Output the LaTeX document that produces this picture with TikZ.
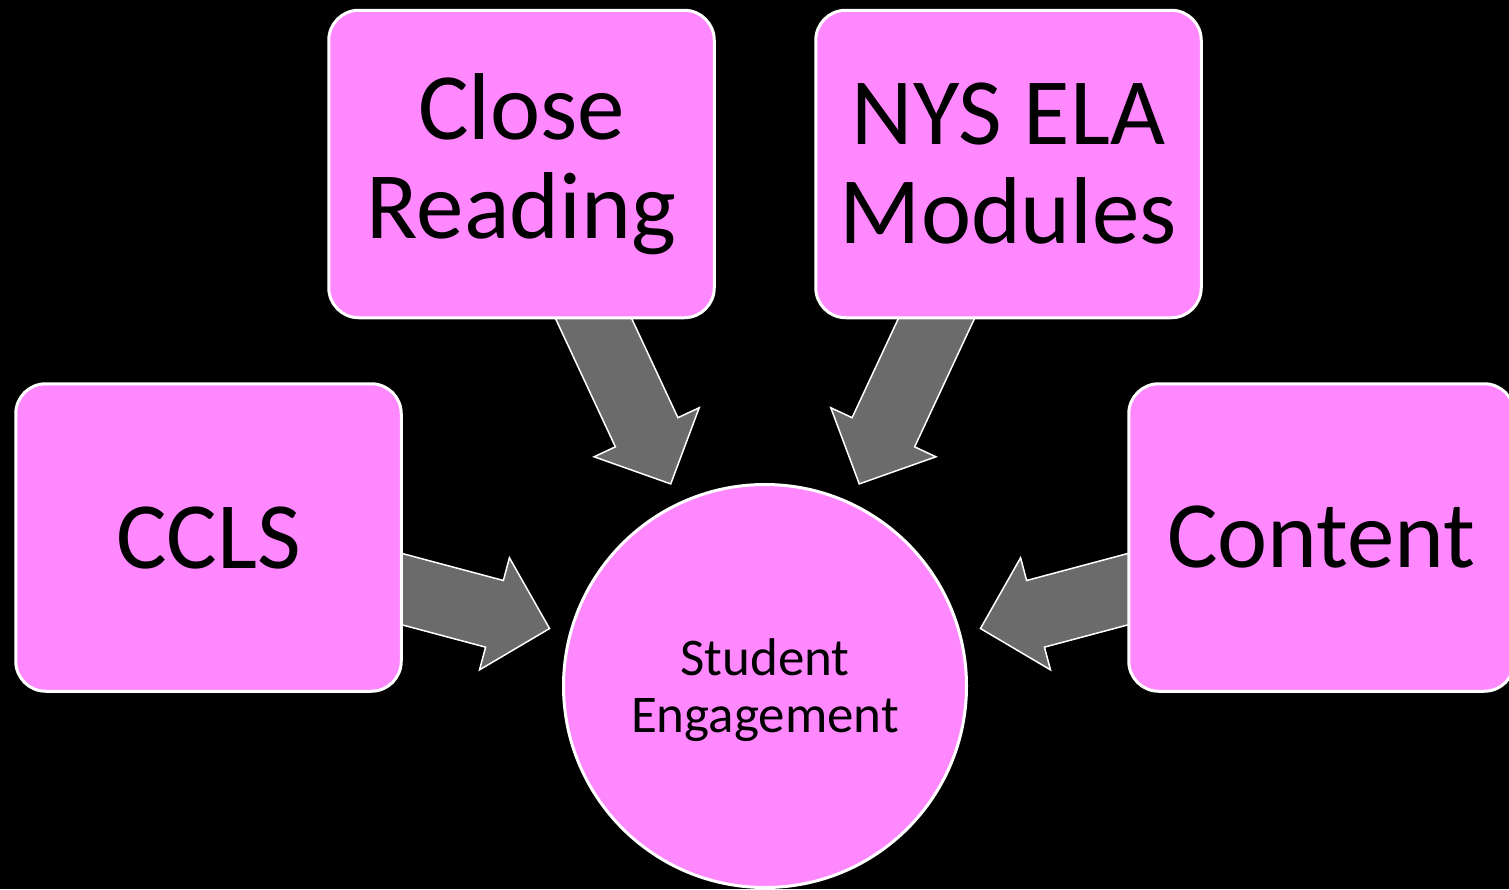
\documentclass[tikz,border=0pt]{standalone}
\usepackage{fontspec}
\setmainfont{Carlito}
\usetikzlibrary{calc}
\definecolor{boxpink}{HTML}{FF88FF}
\definecolor{arrowgray}{HTML}{6B6B6B}
\pgfdeclarelayer{backdrop}
\pgfdeclarelayer{arrows}
\pgfsetlayers{backdrop,arrows,main}

\tikzset{
  topic/.style={draw=white, line width=1.5pt, fill=boxpink, rounded corners=15pt,
    minimum width=192.75pt, minimum height=153.75pt, inner sep=0pt, outer sep=0pt,
    align=center, font=\fontsize{47.5}{49.5}\selectfont},
  hub/.style={draw=white, line width=1.5pt, fill=boxpink, circle,
    minimum size=201.5pt, inner sep=0pt, outer sep=0pt, text depth=0pt,
    align=center, font=\fontsize{26.5}{28.5}\selectfont},
  feed/.style={draw=white, line width=0.75pt, fill=arrowgray, line join=miter}
}

% block arrow from the centre of node #1 towards the centre of node #2
\newcommand\feedarrow[2]{%
  \coordinate (#1-tip) at ($(#2.center)!111.5pt!(#1.center)$);
  \coordinate (#1-neck) at ($(#2.center)!140pt!(#1.center)$);
  \draw[feed] ($(#1.center)!17.25pt!90:(#1-tip)$)
    -- ($(#1-neck)!17.25pt!90:(#1-tip)$)
    -- ($(#1-neck)!29pt!90:(#1-tip)$)
    -- (#1-tip)
    -- ($(#1-neck)!29pt!-90:(#1-tip)$)
    -- ($(#1-neck)!17.25pt!-90:(#1-tip)$)
    -- ($(#1.center)!17.25pt!-90:(#1-tip)$)
    -- cycle;
}

\begin{document}
\begin{tikzpicture}[x=0.5pt, y=-0.5pt]
  \useasboundingbox (0,0) rectangle (1509,889);
  \begin{pgfonlayer}{backdrop}
    \fill[black] (0,0) rectangle (1509,889);
  \end{pgfonlayer}

  \node[topic] (close) at (521.5,164) {Close\\Reading};
  \node[topic] (nys) at (1008.5,164) {NYS ELA\\Modules};
  \node[topic] (ccls) at (208.5,537.5) {CCLS};
  \node[topic] (content) at (1321.5,537.5) {Content};
  \node[hub] (engage) at (765,686) {Student\\Engagement};

  \begin{pgfonlayer}{arrows}
    \feedarrow{close}{engage}
    \feedarrow{nys}{engage}
    \feedarrow{ccls}{engage}
    \feedarrow{content}{engage}
  \end{pgfonlayer}
\end{tikzpicture}
\end{document}
